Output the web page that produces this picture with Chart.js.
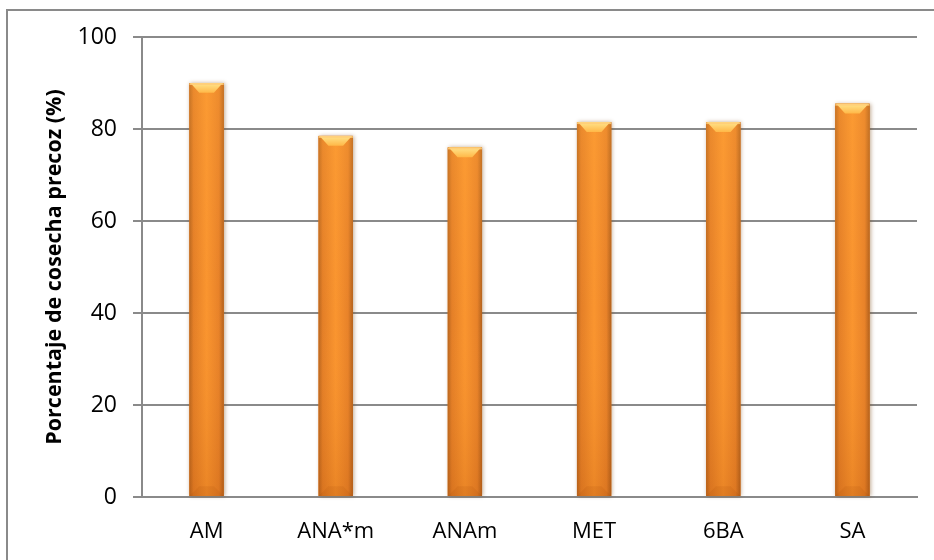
<!DOCTYPE html>
<html>
<head>
<meta charset="utf-8">
<script src="https://cdn.jsdelivr.net/npm/chart.js@4.4.1/dist/chart.umd.min.js"></script>
<style>
  html, body { margin: 0; padding: 0; background: #ffffff; }
  #wrap { width: 934px; height: 560px; position: relative; }
</style>
</head>
<body>
<div id="wrap"><canvas id="c" width="934" height="560"></canvas></div>
<script>
// Treatments and early-harvest percentage per treatment
const categories = ['AM', 'ANA*m', 'ANAm', 'MET', '6BA', 'SA'];
const earlyHarvest = [90, 78.5, 76, 81.5, 81.5, 85.5];
const yTicks = [0, 20, 40, 60, 80, 100];
const yTitle = 'Porcentaje de cosecha precoz (%)';

const FONT = "'Open Sans', 'Liberation Sans', sans-serif";

// Grey frame around the whole figure
const framePlugin = {
  id: 'frame',
  beforeDraw(chart) {
    const ctx = chart.ctx;
    ctx.save();
    ctx.fillStyle = '#ffffff';
    ctx.fillRect(0, 0, chart.width, chart.height);
    ctx.strokeStyle = '#8a8a8a';
    ctx.lineWidth = 2;
    ctx.strokeRect(7, 10, 1000, 1000);
    ctx.restore();
  }
};

// Cylinder-like shading with a bevelled top for every bar
const cylinderPlugin = {
  id: 'cylinder',
  afterDatasetsDraw(chart) {
    const ctx = chart.ctx;
    chart.getDatasetMeta(0).data.forEach(bar => {
      const p = bar.getProps(['x', 'y', 'base', 'width'], true);
      const l = p.x - p.width / 2, r = p.x + p.width / 2;
      const t = p.y, b = p.base, w = p.width;
      ctx.save();

      // soft shadow
      ctx.shadowColor = 'rgba(120,70,20,0.45)';
      ctx.shadowBlur = 4;
      ctx.shadowOffsetX = 1;
      ctx.fillStyle = '#e07a25';
      ctx.fillRect(l, t, w, b - t);
      ctx.shadowColor = 'transparent';

      // horizontal body shading
      const g = ctx.createLinearGradient(l, 0, r, 0);
      g.addColorStop(0, '#b9661f');
      g.addColorStop(0.12, '#e47f27');
      g.addColorStop(0.5, '#fa952f');
      g.addColorStop(0.86, '#e88229');
      g.addColorStop(1, '#b2611d');
      ctx.fillStyle = g;
      ctx.fillRect(l, t, w, b - t);

      // vertical tone: brighter at the top, deeper at the base
      const v = ctx.createLinearGradient(0, t, 0, b);
      v.addColorStop(0, 'rgba(255,170,60,0.25)');
      v.addColorStop(0.5, 'rgba(255,160,60,0.0)');
      v.addColorStop(1, 'rgba(170,70,0,0.2)');
      ctx.fillStyle = v;
      ctx.fillRect(l, t, w, b - t);

      // top bevel
      const bev = Math.min(10, w / 3.5);
      const cap = ctx.createLinearGradient(0, t, 0, t + bev);
      cap.addColorStop(0, '#ffe58c');
      cap.addColorStop(1, '#ffb848');
      ctx.fillStyle = cap;
      ctx.beginPath();
      ctx.moveTo(l + 1, t);
      ctx.lineTo(r - 1, t);
      ctx.lineTo(r - bev, t + bev);
      ctx.lineTo(l + bev, t + bev);
      ctx.closePath();
      ctx.fill();
      ctx.fillStyle = 'rgba(255,205,120,0.85)';
      ctx.fillRect(l, t, w, 2);

      // bottom bevel
      ctx.fillStyle = 'rgba(150,60,0,0.1)';
      ctx.beginPath();
      ctx.moveTo(l + bev, b - bev);
      ctx.lineTo(r - bev, b - bev);
      ctx.lineTo(r, b);
      ctx.lineTo(l, b);
      ctx.closePath();
      ctx.fill();

      ctx.restore();
    });
  }
};

new Chart(document.getElementById('c'), {
  type: 'bar',
  data: {
    labels: categories,
    datasets: [{
      data: earlyHarvest,
      backgroundColor: '#f08a2c',
      borderWidth: 0,
      categoryPercentage: 1,
      barPercentage: 0.265
    }]
  },
  options: {
    responsive: false,
    animation: false,
    devicePixelRatio: 1,
    layout: { padding: { left: 0, top: 37, right: 17, bottom: 0 } },
    plugins: {
      legend: { display: false },
      tooltip: { enabled: false }
    },
    scales: {
      x: {
        grid: { display: false, drawTicks: false },
        border: { display: true, color: '#8a8a8a', width: 2 },
        ticks: { color: '#000000', font: { family: FONT, size: 22 }, padding: 22 },
        afterFit(scale) { scale.height = 63; }
      },
      y: {
        min: 0,
        max: 100,
        afterBuildTicks(scale) { scale.ticks = yTicks.map(v => ({ value: v })); },
        grid: { color: '#8a8a8a', lineWidth: 2, tickLength: 9, drawTicks: true },
        border: { display: true, color: '#8a8a8a', width: 2 },
        ticks: { color: '#000000', font: { family: FONT, size: 23 }, padding: 16 },
        title: {
          display: true,
          text: yTitle,
          color: '#000000',
          font: { family: FONT, size: 21.5, weight: 'bold' },
          padding: { top: 42, bottom: 0 }
        },
        afterFit(scale) { scale.width = 142; }
      }
    }
  },
  plugins: [framePlugin, cylinderPlugin]
});
</script>
</body>
</html>
